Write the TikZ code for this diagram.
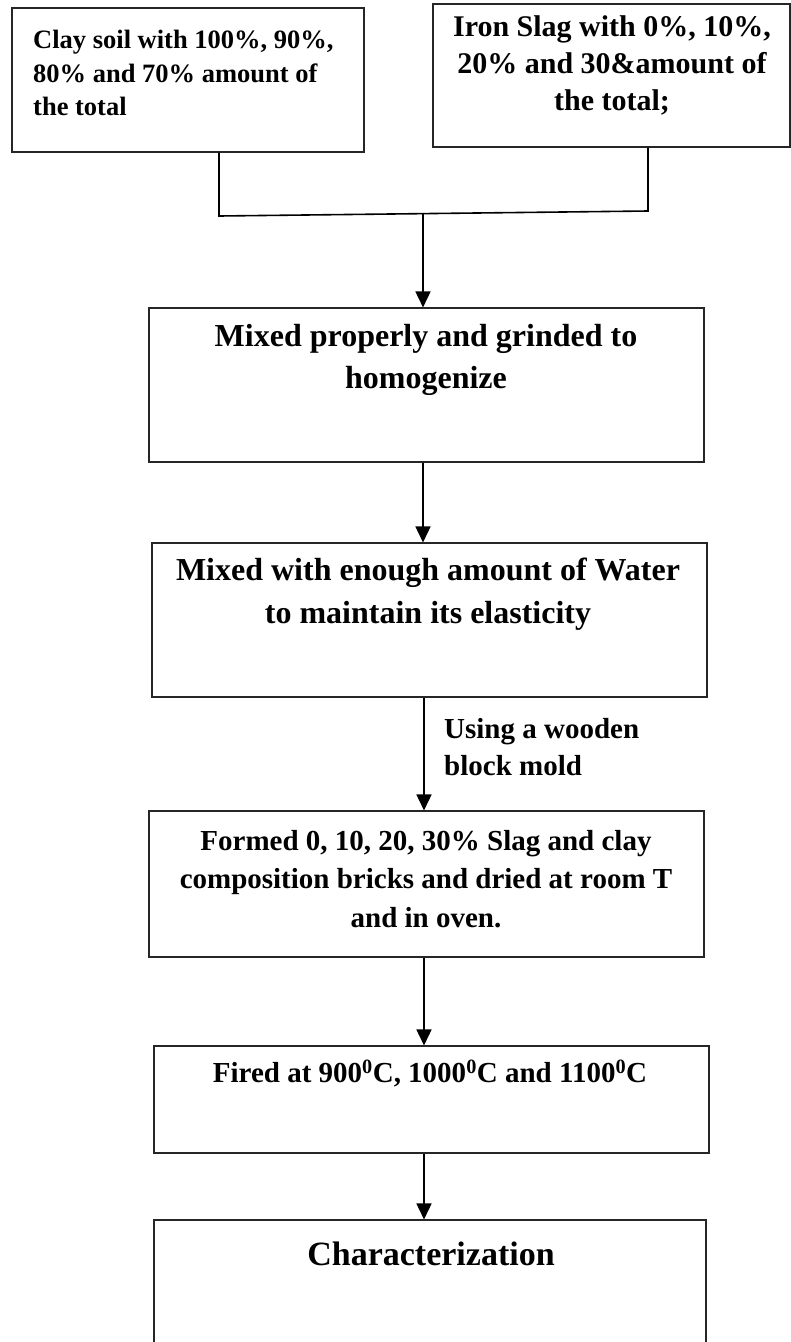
\documentclass[tikz,border=0pt]{standalone}
\usepackage{fontspec}
\setmainfont{Liberation Serif}
\usetikzlibrary{arrows.meta}
\begin{document}
\begin{tikzpicture}[x=1pt,y=-1pt,
  box/.style={draw=black!85,line width=1.1pt,rectangle,inner sep=0pt},
  txt/.style={inner sep=0pt,align=center,text=black},
  conn/.style={draw=black,line width=1.6pt},
  arr/.style={conn,-{Triangle[width=15pt,length=16pt]}}]
\useasboundingbox (0,0) rectangle (791,1342);
% boxes
\node[box,minimum width=352pt,minimum height=144pt] (clay) at (188,80) {};
\node[box,minimum width=357pt,minimum height=143pt] (iron) at (611.5,75.5) {};
\node[box,minimum width=555pt,minimum height=154pt] (mix) at (426.5,385) {};
\node[box,minimum width=555pt,minimum height=154pt] (water) at (429.5,620) {};
\node[box,minimum width=555pt,minimum height=146pt] (formed) at (426.5,884) {};
\node[box,minimum width=555pt,minimum height=107pt] (fired) at (431.5,1099.5) {};
\node[box,minimum width=552pt,minimum height=140pt] (charac) at (430,1290) {};
% texts
\node[txt,align=left,anchor=west,font=\bfseries\fontsize{26.5}{33.5}\selectfont] (tclay) at (33,73)
  {Clay soil with 100\%, 90\%,\\80\% and 70\% amount of\\the total};
\node[txt,font=\bfseries\fontsize{30}{37}\selectfont] (tiron) at (612,65)
  {Iron Slag with 0\%, 10\%,\\20\% and 30\&amount of\\the total;};
\node[txt,font=\bfseries\fontsize{32}{42}\selectfont] (tmix) at (426,360)
  {Mixed properly and grinded to\\homogenize};
\node[txt,font=\bfseries\fontsize{32}{43}\selectfont] (twater) at (428,594)
  {Mixed with enough amount of Water\\to maintain its elasticity};
\node[txt,font=\bfseries\fontsize{29}{38.5}\selectfont] (tformed) at (426,879)
  {Formed 0, 10, 20, 30\% Slag and clay\\composition bricks and dried at room T\\and in oven.};
\node[txt,font=\bfseries\fontsize{29}{36}\selectfont] (tfired) at (430,1073)
  {Fired at 900\textsuperscript{0}C, 1000\textsuperscript{0}C and 1100\textsuperscript{0}C};
\node[txt,font=\bfseries\fontsize{34}{40}\selectfont] (tchar) at (431,1254)
  {Characterization};
\node[txt,align=left,anchor=west,font=\bfseries\fontsize{29}{37}\selectfont] (tlabel) at (444,747)
  {Using a wooden\\block mold};
% connectors
\coordinate (jl) at (219,216);
\coordinate (jr) at (648,211);
\coordinate (jm) at (423,213.6);
\draw[conn] (clay.south -| jl) -- (jl) -- (jr) -- (iron.south -| jr);
\draw[arr] (jm) -- (jm |- mix.north);
\draw[arr] (mix.south -| jm) -- (jm |- water.north);
\draw[arr] (water.south -| 424,0) -- (formed.north -| 424,0);
\draw[arr] (formed.south -| 424,0) -- (fired.north -| 424,0);
\draw[arr] (fired.south -| 424,0) -- (charac.north -| 424,0);
\end{tikzpicture}
\end{document}
